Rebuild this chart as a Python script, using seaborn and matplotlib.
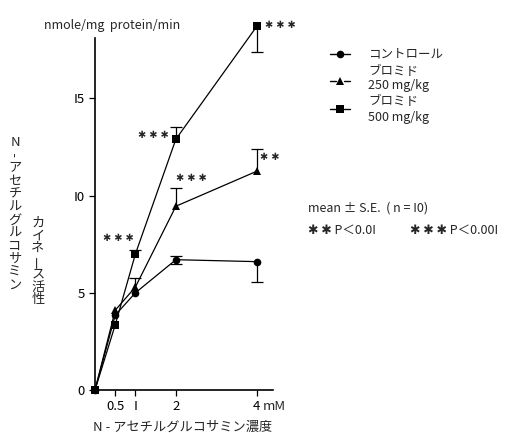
import numpy as np
import pandas as pd
import matplotlib
matplotlib.use("Agg")
import matplotlib.pyplot as plt
import seaborn as sns
from matplotlib.lines import Line2D

# ---- data ----
conc = [0, 0.5, 1, 2, 4]
control = [0, 3.85, 5.0, 6.7, 6.6]
control_lo = [0, 0, 0, 0.2, 1.05]
control_hi = [0, 0, 0, 0.2, 0]
bromide250 = [0, 4.1, 5.3, 9.45, 11.25]
b250_lo = [0, 0, 0, 0, 0]
b250_hi = [0, 0, 0.45, 0.95, 1.15]
bromide500 = [0, 3.35, 7.0, 12.9, 18.7]
b500_lo = [0, 0, 0, 0, 1.3]
b500_hi = [0, 0, 0.2, 0.6, 0]
series_names = ["control", "b250", "b500"]
xticks = [0.5, 1, 2, 4]
xticklabels = ["0.5", "I", "2", "4"]
yticks = [0, 5, 10, 15]
yticklabels = ["0", "5", "I0", "I5"]

sns.set_style("white")
plt.rcParams['font.family'] = ['Noto Sans CJK JP', 'DejaVu Sans']

df = pd.DataFrame({
    "conc": conc * 3,
    "value": control + bromide250 + bromide500,
    "group": sum([[n] * len(conc) for n in series_names], []),
})

fig = plt.figure(figsize=(5.06, 4.33), dpi=100)
ax = fig.add_axes([95/506, 1 - 390/433, 178/506, 352/433])

sns.lineplot(data=df, x="conc", y="value", hue="group", style="group",
             palette={n: "black" for n in series_names},
             markers={"control": "o", "b250": "^", "b500": "s"},
             dashes=False, markersize=5.5, linewidth=0.9, legend=False,
             ax=ax, clip_on=False, markeredgewidth=0)

# one-sided error bars: stem + cap only at the end
for y, lo, hi in [(control, control_lo, control_hi),
                  (bromide250, b250_lo, b250_hi),
                  (bromide500, b500_lo, b500_hi)]:
    y = np.array(y); lo = np.array(lo); hi = np.array(hi); xs = np.array(conc)
    for err, sign in [(hi, 1), (lo, -1)]:
        m = err > 0
        if m.any():
            ends = y[m] + sign * err[m]
            ax.vlines(xs[m], y[m], ends, colors="black", linewidth=0.9, clip_on=False)
            ax.plot(xs[m], ends, linestyle="none", marker="_", markersize=8,
                    markeredgewidth=0.9, color="black", clip_on=False)

ax.set_xlim(0, 4.4)
ax.set_ylim(0, 18.1)
ax.set_xticks(xticks)
ax.set_xticklabels(xticklabels, fontsize=9.5)
ax.set_yticks(yticks)
ax.set_yticklabels(yticklabels, fontsize=9.5)
ax.set_xlabel("")
ax.set_ylabel("")
sns.despine(ax=ax)
for s in ["left", "bottom"]:
    ax.spines[s].set_linewidth(1.2)
    ax.spines[s].set_color("black")
ax.tick_params(axis="both", direction="out", length=4, width=0.9, colors="black",
               left=True, bottom=True)
ax.patch.set_alpha(0)

# significance marks
def star(x, y, s):
    ax.text(x, y, s, ha="center", va="center", fontsize=7, clip_on=False,
            family="DejaVu Sans")
star(0.57, 7.8, "✱ ✱ ✱")
star(1.43, 13.1, "✱ ✱ ✱")
star(2.39, 10.9, "✱ ✱ ✱")
star(4.32, 12.0, "✱ ✱")
star(4.57, 18.75, "✱ ✱ ✱")

def fx(px):
    return px / 506
def fy(py):
    return 1 - py / 433

fig.text(fx(112), fy(25), "nmole/mg  protein/min", ha="center", va="center", fontsize=9)
fig.text(fx(274), fy(407), "mM", ha="center", va="center", fontsize=9.5)
fig.text(fx(183), fy(427), "N - アセチルグルコサミン濃度", ha="center", va="center", fontsize=9.5)

# vertical y label, one character per line (long marks rotated upright)
col1 = ["N", "-"] + list("アセチルグルコサミン")
col2 = list("カイネ") + ["ー"] + list("ス活性")
for chars, x0, y0, step in [(col1, 15, 142, 13.0), (col2, 38, 223, 12.8)]:
    for i, ch in enumerate(chars):
        rot = 90 if ch in ("-", "ー") else 0
        fig.text(fx(x0), fy(y0 + i * step), ch, ha="center", va="center",
                 fontsize=9.5, rotation=rot)

# legend
for py, m in [(54, "o"), (81, "^"), (109, "s")]:
    for x0, x1 in [(330, 336), (344, 350)]:
        fig.add_artist(Line2D([fx(x0), fx(x1)], [fy(py), fy(py)], color="black", lw=1.0))
    fig.add_artist(Line2D([fx(340)], [fy(py)], marker=m, color="black", markersize=5.5,
                          markeredgewidth=0))
fig.text(fx(368), fy(54), "コントロール", ha="left", va="center", fontsize=9)
fig.text(fx(368), fy(71), "ブロミド", ha="left", va="center", fontsize=9)
fig.text(fx(368), fy(85), "250 mg/kg", ha="left", va="center", fontsize=9)
fig.text(fx(368), fy(102), "ブロミド", ha="left", va="center", fontsize=9)
fig.text(fx(368), fy(117), "500 mg/kg", ha="left", va="center", fontsize=9)

fig.text(fx(308), fy(208), "mean ± S.E.  ( n = I0)", ha="left", va="center", fontsize=9)
fig.text(fx(308), fy(230), "✱ ✱ P＜0.0I", ha="left", va="center", fontsize=9)
fig.text(fx(410), fy(230), "✱ ✱ ✱ P＜0.00I", ha="left", va="center", fontsize=9)

fig.savefig("out.png", dpi=100, facecolor="white")
